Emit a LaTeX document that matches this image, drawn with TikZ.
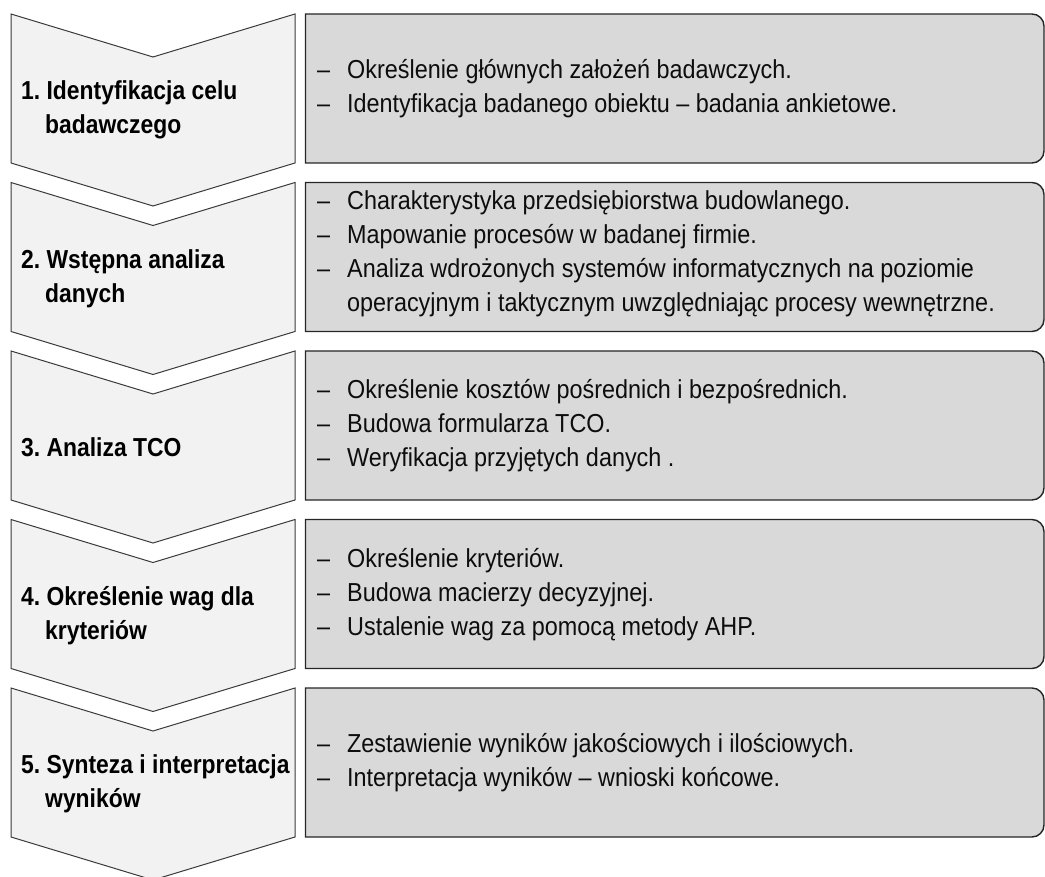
\documentclass[tikz,border=0pt]{standalone}
\usepackage{fontspec}
\setmainfont{Liberation Sans}[FakeStretch=0.9]
\newfontfamily\stepfont{Liberation Sans}[FakeStretch=0.88]
\definecolor{chevfill}{HTML}{F2F2F2}
\definecolor{boxfill}{HTML}{D9D9D9}
\definecolor{chevline}{HTML}{3A3A3A}
\tikzset{
  chevshape/.style={fill=chevfill, draw=chevline, line width=1pt, line join=miter},
  boxshape/.style={fill=boxfill, draw=black!85, line width=1.4pt},
  steplabel/.style={anchor=west, align=left, inner sep=0pt, font=\stepfont\fontsize{26}{34}\selectfont\bfseries, text=black},
  itemlabel/.style={anchor=west, align=left, inner sep=0pt, font=\fontsize{26}{34}\selectfont, text=black!95},
}
\newcommand{\dashitem}[1]{\makebox[30pt][l]{–}#1}
\newcommand{\contline}[1]{\hspace*{30pt}#1}
\newcommand{\stepind}[1]{\hspace*{24pt}#1}
\frenchspacing
\begin{document}
\begin{tikzpicture}[x=1pt,y=-1pt]
\useasboundingbox (0,0) rectangle (1045,877);
\foreach \k/\t in {1/14,2/182.5,3/351,4/519.5,5/688}{
  \draw[chevshape] (11,\t) -- (153,\t+43) -- (295,\t) -- (295,\t+149) -- (153,\t+192) -- (11,\t+149) -- cycle;
  \draw[boxshape] (305.5,\t) [rounded corners=12pt] -- (1044,\t) -- (1044,\t+149) [sharp corners] -- (305.5,\t+149) -- cycle;
  \coordinate (c\k) at (21,\t+96);
  \coordinate (b\k) at (317,\t+75);
}
\node[steplabel] (s1) at (c1) {1. Identyfikacja celu\\\stepind{badawczego}};
\node[steplabel] (s2) at (c2) {2. Wstępna analiza\\\stepind{danych}};
\node[steplabel] (s3) at (c3) {3. Analiza TCO};
\node[steplabel] (s4) at (c4) {4. Określenie wag dla\\\stepind{kryteriów}};
\node[steplabel] (s5) at (c5) {5. Synteza i interpretacja\\\stepind{wyników}};
\node[itemlabel] (d1) at (b1) {\dashitem{Określenie głównych założeń badawczych.}\\\dashitem{Identyfikacja badanego obiektu – badania ankietowe.}};
\node[itemlabel] (d2) at ([yshift=4pt]b2) {\dashitem{Charakterystyka przedsiębiorstwa budowlanego.}\\\dashitem{Mapowanie procesów w badanej firmie.}\\\dashitem{Analiza wdrożonych systemów informatycznych na poziomie}\\\contline{operacyjnym i taktycznym uwzględniając procesy wewnętrzne.}};
\node[itemlabel] (d3) at (b3) {\dashitem{Określenie kosztów pośrednich i bezpośrednich.}\\\dashitem{Budowa formularza TCO.}\\\dashitem{Weryfikacja przyjętych danych .}};
\node[itemlabel] (d4) at (b4) {\dashitem{Określenie kryteriów.}\\\dashitem{Budowa macierzy decyzyjnej.}\\\dashitem{Ustalenie wag za pomocą metody AHP.}};
\node[itemlabel] (d5) at (b5) {\dashitem{Zestawienie wyników jakościowych i ilościowych.}\\\dashitem{Interpretacja wyników – wnioski końcowe.}};
\end{tikzpicture}
\end{document}
